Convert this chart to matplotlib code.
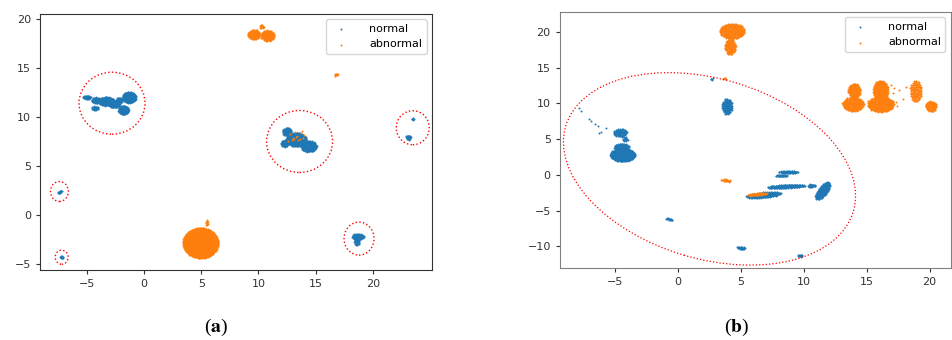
import numpy as np
import matplotlib
matplotlib.use('Agg')
import matplotlib.pyplot as plt
from matplotlib.patches import Ellipse
from matplotlib.transforms import ScaledTranslation

plt.rcParams['mathtext.fontset'] = 'stix'

# clusters of the embedding, one row per blob: x, y, half-width, half-height, tilt (deg), points
normal_a = [
    (-5.0, 12.0, 0.35, 0.18, 0, 40),
    (-4.2, 11.7, 0.40, 0.30, 0, 60),
    (-3.3, 11.6, 0.70, 0.45, 0, 200),
    (-2.6, 11.3, 0.50, 0.35, 0, 100),
    (-4.3, 10.9, 0.30, 0.20, 0, 30),
    (-2.2, 11.7, 0.30, 0.30, 0, 40),
    (-1.3, 12.0, 0.60, 0.55, 0, 250),
    (-1.8, 10.7, 0.45, 0.45, 0, 150),
    (12.5, 8.5, 0.40, 0.40, 0, 80),
    (13.3, 7.7, 0.90, 0.70, 0, 300),
    (14.4, 7.0, 0.70, 0.55, 0, 200),
    (12.3, 7.3, 0.35, 0.35, 0, 60),
    (23.5, 9.8, 0.08, 0.10, 0, 6),
    (23.1, 7.9, 0.22, 0.22, 0, 25),
    (-7.35, 2.35, 0.22, 0.10, 45, 15),
    (-7.2, -4.3, 0.15, 0.15, 0, 12),
    (18.7, -2.2, 0.55, 0.30, 0, 80),
    (18.6, -2.7, 0.22, 0.40, 0, 40),
]
abnormal_a = [
    (9.6, 18.4, 0.55, 0.50, 0, 120),
    (10.8, 18.3, 0.60, 0.55, 0, 140),
    (10.3, 19.2, 0.20, 0.20, 0, 15),
    (16.8, 14.3, 0.15, 0.15, 0, 10),
    (4.95, -2.85, 1.55, 1.55, 0, 1400),
    (5.5, -0.8, 0.12, 0.30, 0, 12),
]
# loose abnormal samples mixed into the normal group
abnormal_a_x = [12.8, 13.0, 13.2, 13.4, 13.5, 13.7, 13.9, 14.0, 13.1, 13.6, 13.3, 12.9, 13.8, 12.6]
abnormal_a_y = [8.3, 7.9, 8.5, 8.1, 7.6, 8.4, 7.9, 8.2, 7.7, 7.8, 8.0, 7.6, 8.6, 7.5]

normal_b = [
    (-4.6, 5.9, 0.55, 0.55, 0, 80),
    (-4.2, 5.0, 0.20, 0.30, 0, 15),
    (-4.4, 2.8, 1.00, 0.90, 0, 400),
    (-4.5, 3.9, 0.60, 0.50, 0, 100),
    (3.9, 9.6, 0.40, 1.10, 0, 120),
    (2.7, 13.4, 0.10, 0.15, 0, 5),
    (-0.7, -6.2, 0.30, 0.12, -30, 15),
    (8.8, 0.4, 0.80, 0.15, 0, 60),
    (8.2, -0.1, 0.50, 0.12, 0, 30),
    (8.6, -1.6, 1.50, 0.22, 5, 180),
    (6.8, -2.8, 1.40, 0.35, 10, 200),
    (11.5, -2.2, 0.40, 1.30, -20, 200),
    (10.6, -1.5, 0.30, 0.20, 0, 30),
    (5.0, -10.2, 0.35, 0.20, -15, 25),
    (9.7, -11.3, 0.20, 0.15, 0, 15),
]
# thin trail of normal samples on the upper left
trail_b_x = [-7.9, -7.7, -7.1, -6.9, -6.6, -6.4, -6.25, -6.1, -5.7]
trail_b_y = [9.3, 9.0, 7.8, 7.6, 7.1, 6.9, 5.8, 6.0, 6.6]

abnormal_b = [
    (4.3, 20.1, 1.00, 1.10, 0, 250),
    (4.15, 17.9, 0.45, 1.10, 0, 120),
    (3.7, 13.5, 0.12, 0.15, 0, 6),
    (3.8, -0.75, 0.40, 0.15, -15, 20),
    (6.3, -2.7, 0.80, 0.15, 10, 60),
    (14.0, 11.8, 0.50, 1.00, 0, 150),
    (13.9, 9.9, 0.85, 1.00, 0, 200),
    (16.1, 11.8, 0.60, 1.40, 0, 250),
    (16.1, 9.9, 1.05, 1.10, 0, 300),
    (18.9, 11.7, 0.45, 1.50, 0, 120),
    (20.1, 9.6, 0.45, 0.75, 0, 80),
]
scatter_b_x = [16.9, 17.1, 17.3, 17.0, 17.6, 17.9, 17.4, 18.1, 17.2]
scatter_b_y = [12.6, 11.5, 10.2, 9.3, 11.9, 10.6, 9.6, 12.3, 12.1]


def blob_points(blobs):
    xs, ys = [], []
    golden = np.pi * (3 - np.sqrt(5))
    for cx, cy, rx, ry, tilt, n in blobs:
        i = np.arange(n)
        r = np.sqrt((i + 0.5) / n)
        t = i * golden
        u = rx * r * np.cos(t)
        v = ry * r * np.sin(t)
        a = np.deg2rad(tilt)
        xs.append(cx + u * np.cos(a) - v * np.sin(a))
        ys.append(cy + u * np.sin(a) + v * np.cos(a))
    return np.concatenate(xs), np.concatenate(ys)


def ring(ax, fig, cx, cy, w_px, h_px, angle=0, lw=1.0):
    # ring size given in pixels so it stays round whatever the axis scales
    tr = fig.dpi_scale_trans + ScaledTranslation(cx, cy, ax.transData)
    e = Ellipse((0, 0), w_px / 100, h_px / 100, angle=angle, transform=tr,
                fill=False, edgecolor='red', linestyle=':', linewidth=lw)
    ax.add_patch(e)


fig = plt.figure(figsize=(9.52, 3.4), dpi=100)
ax1 = fig.add_axes([0.042, 0.206, 0.412, 0.753])
ax2 = fig.add_axes([0.588, 0.212, 0.411, 0.753])

# panel a
nx_, ny_ = blob_points(normal_a)
ax1.scatter(nx_, ny_, s=2, color='#1f77b4', linewidths=0, label='normal')
axx, axy = blob_points(abnormal_a)
axx = np.concatenate([axx, abnormal_a_x])
axy = np.concatenate([axy, abnormal_a_y])
ax1.scatter(axx, axy, s=2, color='#ff7f0e', linewidths=0, label='abnormal')
ax1.set_xlim(-9.1, 25.2)
ax1.set_ylim(-5.6, 20.5)
ax1.set_xticks([-5, 0, 5, 10, 15, 20])
ax1.set_yticks([-5, 0, 5, 10, 15, 20])
ring(ax1, fig, -2.8, 11.4, 66, 62)
ring(ax1, fig, 13.6, 7.5, 66, 62)
ring(ax1, fig, 23.5, 8.9, 33, 34)
ring(ax1, fig, -7.4, 2.4, 18, 20)
ring(ax1, fig, -7.2, -4.3, 13, 14)
ring(ax1, fig, 18.8, -2.4, 30, 33)

# panel b
nbx, nby = blob_points(normal_b)
nbx = np.concatenate([nbx, trail_b_x])
nby = np.concatenate([nby, trail_b_y])
ax2.scatter(nbx, nby, s=2, color='#1f77b4', linewidths=0, label='normal')
abx, aby = blob_points(abnormal_b)
abx = np.concatenate([abx, scatter_b_x])
aby = np.concatenate([aby, scatter_b_y])
ax2.scatter(abx, aby, s=2, color='#ff7f0e', linewidths=0, label='abnormal')
ax2.set_xlim(-9.4, 21.7)
ax2.set_ylim(-13.0, 22.8)
ax2.set_xticks([-5, 0, 5, 10, 15, 20])
ax2.set_yticks([-10, -5, 0, 5, 10, 15, 20])
ring(ax2, fig, 2.5, 0.85, 300, 180, angle=-16.5, lw=0.9)

for ax, spine_col in [(ax1, '#333333'), (ax2, '#808080')]:
    for sp in ax.spines.values():
        sp.set_color(spine_col)
    ax.tick_params(labelsize=8, colors='#333333', length=3)
    ax.legend(loc='upper right', fontsize=8, markerscale=1.0, handletextpad=1.5)

fig.text(216 / 952, 1 - 327 / 340, r'($\mathbf{a}$)', ha='center', va='center',
         family='Liberation Serif', fontsize=14)
fig.text(737 / 952, 1 - 327 / 340, r'($\mathbf{b}$)', ha='center', va='center',
         family='Liberation Serif', fontsize=14)

fig.savefig('out.png', dpi=100)
